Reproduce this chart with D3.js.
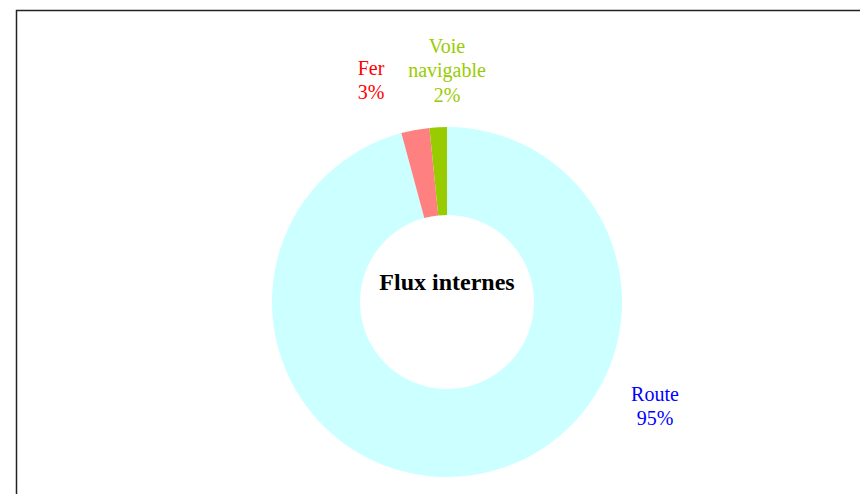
<!DOCTYPE html>
<html>
<head>
<meta charset="utf-8">
<script src="https://cdn.jsdelivr.net/npm/d3@7"></script>
<style>
	body { margin: 0; background: #fff; }
	svg { display: block; }
</style>
</head>
<body>
<div id="graphic"></div>
<script>
// data
const categories = ['Route', 'Fer', 'Voie navigable'];
const shares = [95.8, 2.6, 1.6];
const labelText = ['95%', '3%', '2%'];

const fills = { 'Route': '#CCFFFF', 'Fer': '#FF8080', 'Voie navigable': '#99CC00' };
const textColours = { 'Route': '#0000FF', 'Fer': '#FF0000', 'Voie navigable': '#99CC00' };
// label line breaks and placement (baseline of middle line, relative to the centre)
const labelLines = { 'Route': ['Route'], 'Fer': ['Fer'], 'Voie navigable': ['Voie', 'navigable'] };
const labelPos = { 'Route': [208, 111], 'Fer': [-76, -215], 'Voie navigable': [0, -225] };

const width = 860, height = 494;
const cx = 447, cy = 302;
const outerR = 175, innerR = 87;

let svg = d3.select('#graphic').append('svg')
	.attr('width', width)
	.attr('height', height);

// frame
svg.append('path')
	.attr('d', `M16.5,${height + 2}V10.5H${width + 2}`)
	.attr('fill', 'none')
	.attr('stroke', '#222')
	.attr('stroke-width', 1.5);

const graphicData = categories.map((c, i) => ({ name: c, value: shares[i], label: labelText[i] }));

const pie = d3.pie().sort(null).value(d => d.value);
const arc = d3.arc().innerRadius(innerR).outerRadius(outerR);

let g = svg.append('g').attr('transform', `translate(${cx},${cy})`);

g.selectAll('path')
	.data(pie(graphicData))
	.join('path')
	.attr('d', arc)
	.attr('fill', d => fills[d.data.name]);

// labels
const lineH = 24.5;
graphicData.forEach(d => {
	const lines = labelLines[d.name].concat([d.label]);
	const [dx, dy] = labelPos[d.name];
	const t = g.append('text')
		.attr('text-anchor', 'middle')
		.attr('font-family', '"Liberation Serif", "Times New Roman", serif')
		.attr('font-size', 20)
		.attr('fill', textColours[d.name]);
	const y0 = dy - (lines.length - 1) * lineH / 2;
	lines.forEach((l, i) => {
		t.append('tspan').attr('x', dx).attr('y', y0 + i * lineH).text(l);
	});
});

// centre title
g.append('text')
	.attr('text-anchor', 'middle')
	.attr('y', -12)
	.attr('font-family', '"Liberation Serif", "Times New Roman", serif')
	.attr('font-weight', 'bold')
	.attr('font-size', 24)
	.attr('fill', '#000')
	.text('Flux internes');
</script>
</body>
</html>
